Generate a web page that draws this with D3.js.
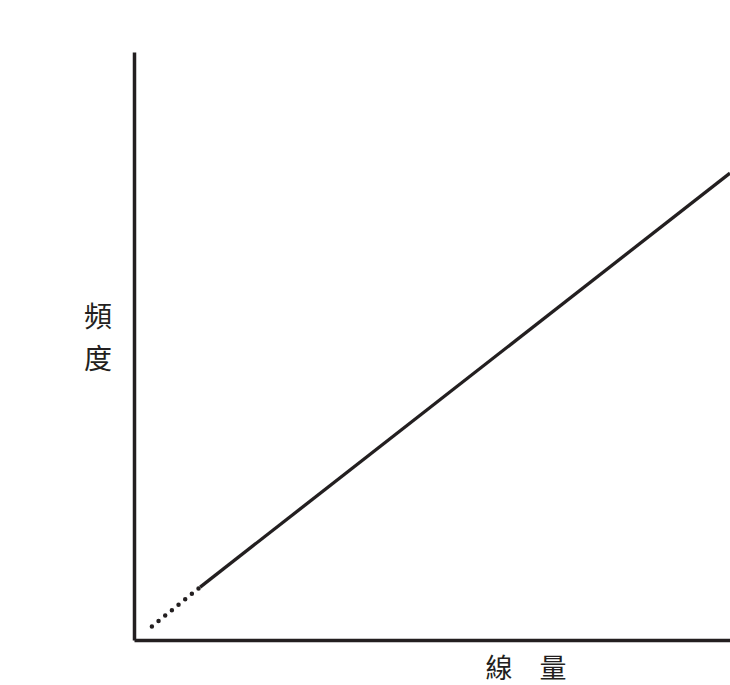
<!DOCTYPE html>
<html>
<head>
<meta charset="utf-8">
<script src="https://cdn.jsdelivr.net/npm/d3@7"></script>
<style>
  html, body { margin: 0; padding: 0; background: #fff; }
  text { font-family: "Noto Sans CJK TC", "Noto Sans CJK JP", serif; fill: #231f20; }
</style>
</head>
<body>
<svg id="chart" width="730" height="685"></svg>
<script>
// Data (arbitrary units, 0-100 on both axes)
const dottedX = [3.0, 11.1];
const dottedY = [2.3, 9.0];
const solidX = [11.1, 100];
const solidY = [9.0, 79.4];
const yLabelChars = ["頻", "度"];
const xLabel = "線\u3000量";

const svg = d3.select("#chart");

// Plot area
const margin = { left: 134, right: 730, top: 52, bottom: 640 };

const x = d3.scaleLinear().domain([0, 100]).range([margin.left, margin.right]);
const y = d3.scaleLinear().domain([0, 100]).range([margin.bottom, margin.top]);

const ink = "#231f20";

// Axes (plain lines, no ticks)
svg.append("g")
  .attr("transform", `translate(${margin.left},0)`)
  .call(d3.axisLeft(y).tickValues([]).tickSizeOuter(0))
  .call(g => g.select(".domain").attr("stroke", ink).attr("stroke-width", 3.5));

svg.append("g")
  .attr("transform", `translate(0,${margin.bottom})`)
  .call(d3.axisBottom(x).tickValues([]).tickSizeOuter(0))
  .call(g => g.select(".domain").attr("stroke", ink).attr("stroke-width", 3.5));

const line = d3.line()
  .x(d => x(d[0]))
  .y(d => y(d[1]));

// Dotted part near the origin
svg.append("path")
  .datum(d3.zip(dottedX, dottedY))
  .attr("d", line)
  .attr("fill", "none")
  .attr("stroke", ink)
  .attr("stroke-width", 4.5)
  .attr("stroke-linecap", "round")
  .attr("stroke-dasharray", "0 8.6");

// Solid part
svg.append("path")
  .datum(d3.zip(solidX, solidY))
  .attr("d", line)
  .attr("fill", "none")
  .attr("stroke", ink)
  .attr("stroke-width", 3.3);

// Y label, written vertically
svg.selectAll(".ylab")
  .data(yLabelChars)
  .enter()
  .append("text")
  .attr("class", "ylab")
  .attr("x", 98)
  .attr("y", (d, i) => 327 + i * 42)
  .attr("text-anchor", "middle")
  .attr("font-size", 28)
  .text(d => d);

// X label
svg.append("text")
  .attr("x", 526)
  .attr("y", 678)
  .attr("text-anchor", "middle")
  .attr("font-size", 27)
  .text(xLabel);
</script>
</body>
</html>
